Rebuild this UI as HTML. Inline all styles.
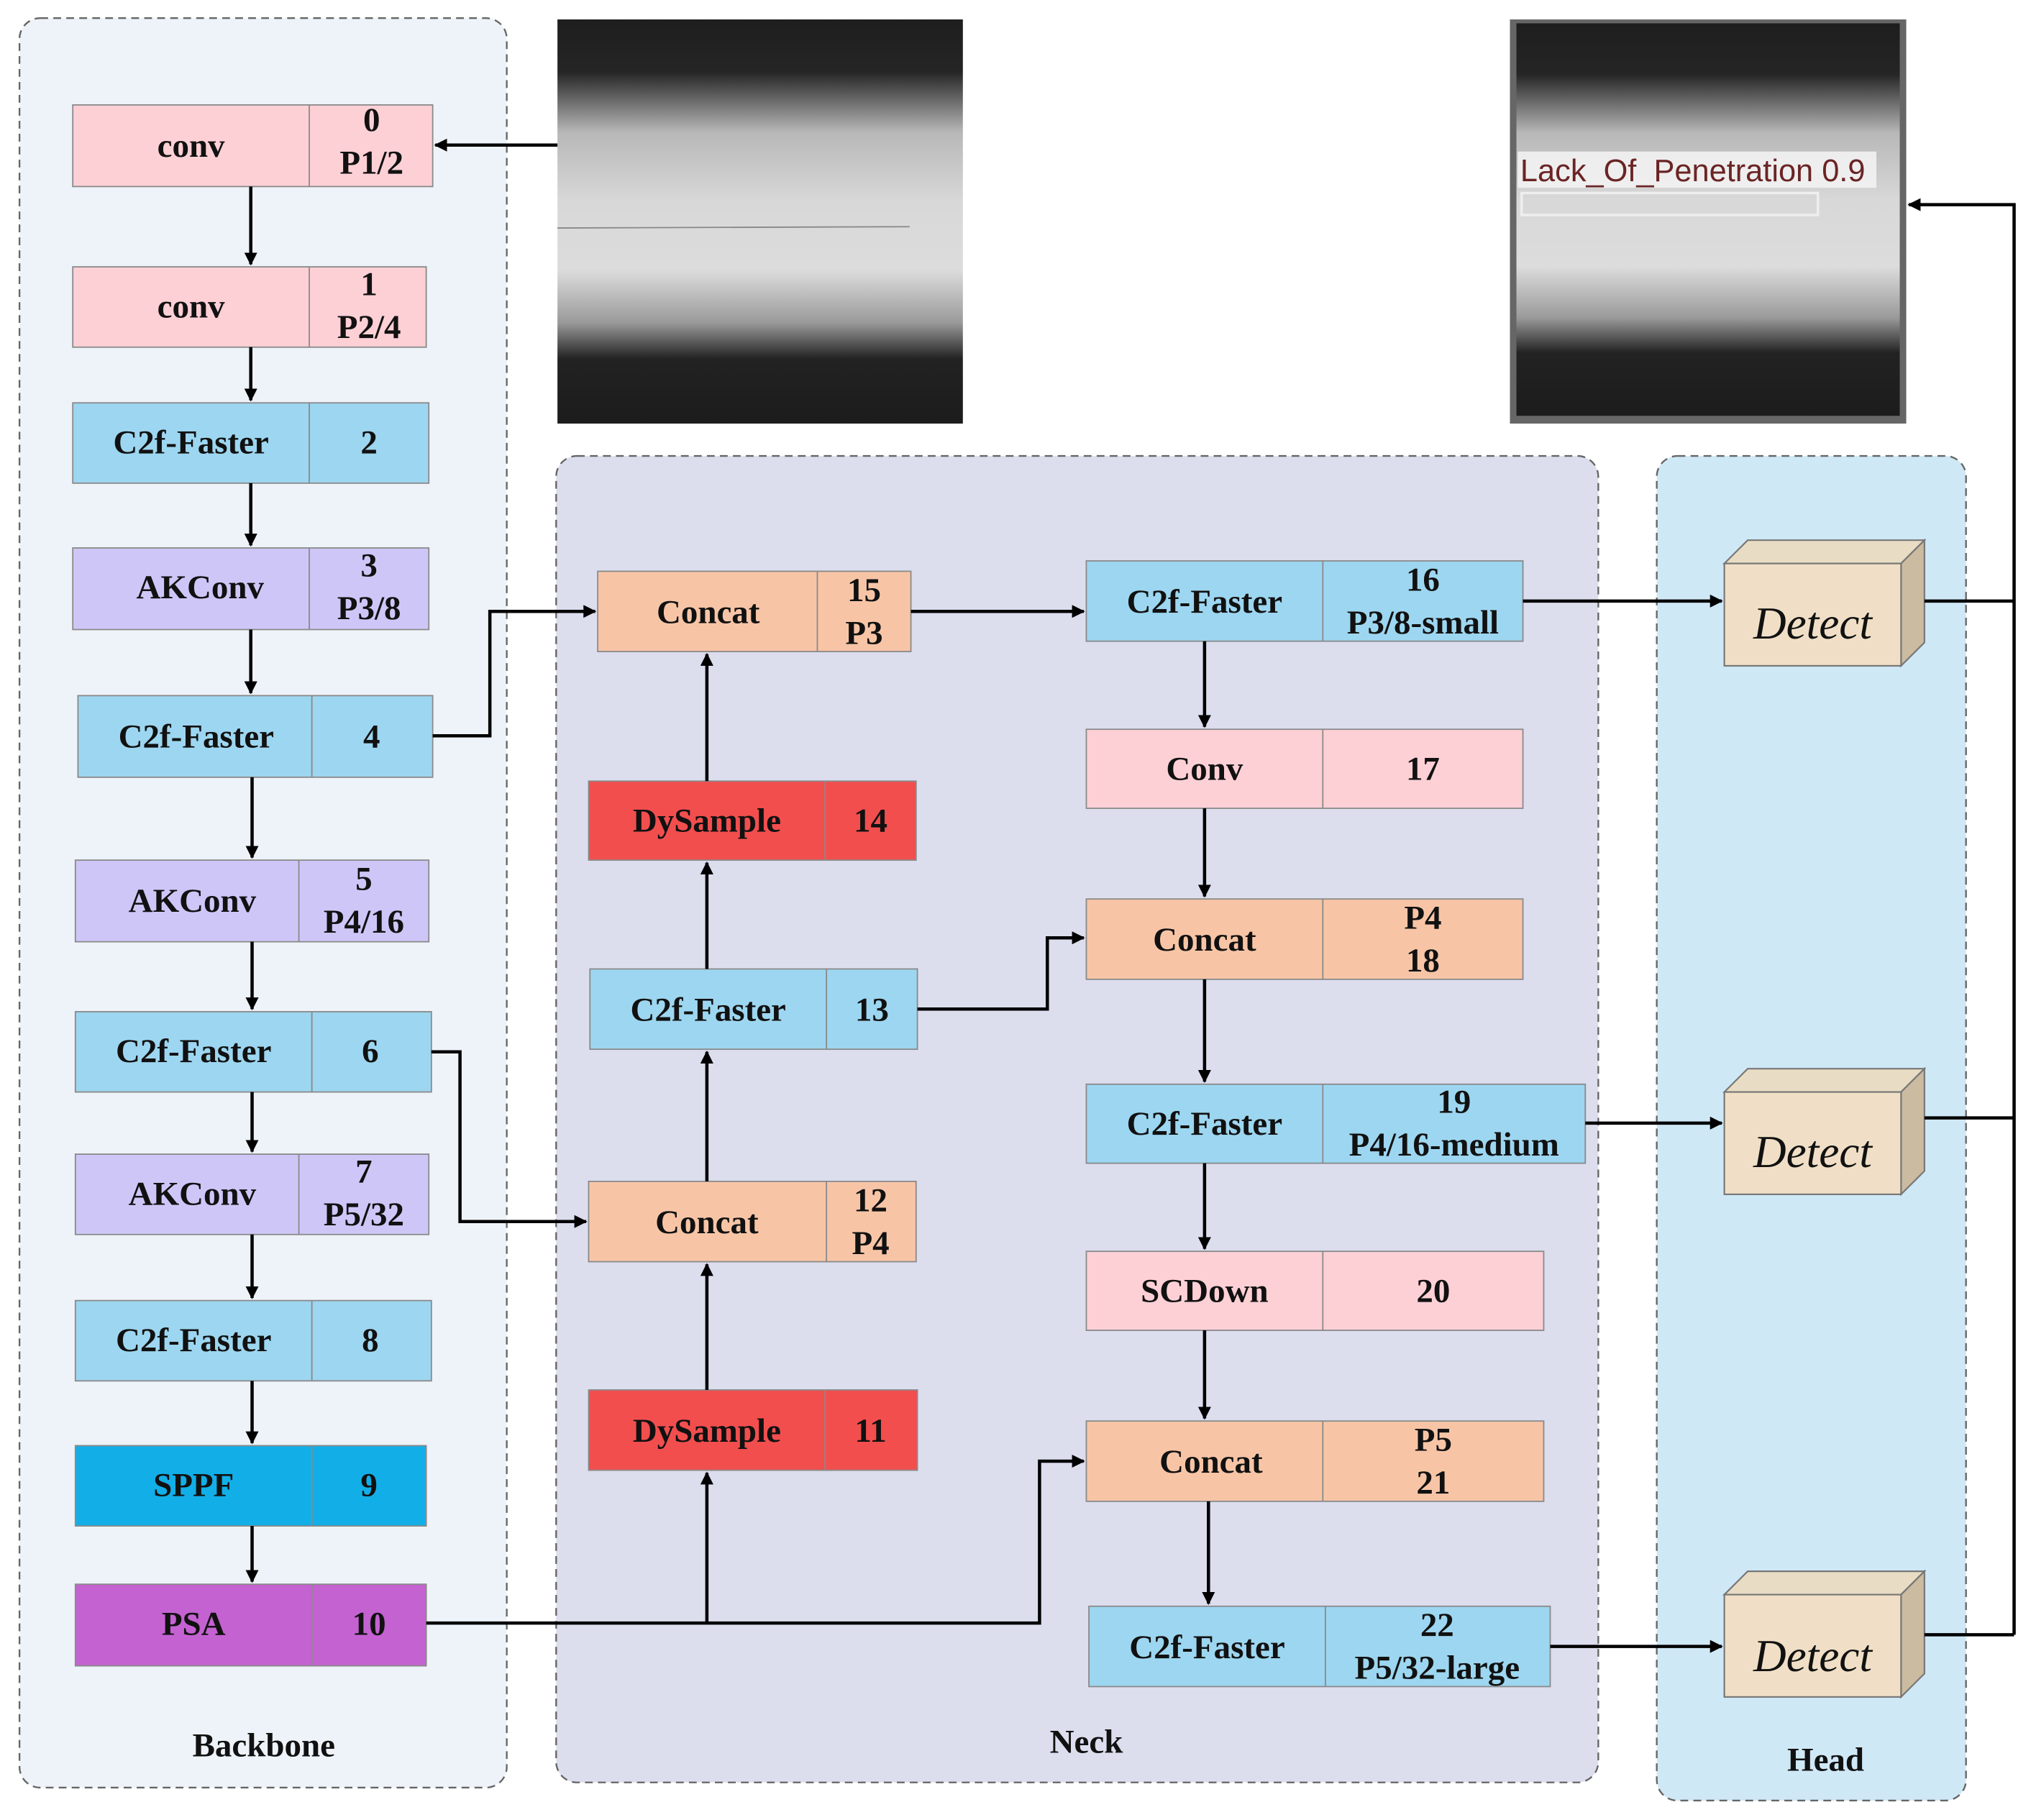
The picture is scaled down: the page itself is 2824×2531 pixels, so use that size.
<!DOCTYPE html>
<html><head><meta charset="utf-8"><style>
html,body{margin:0;padding:0;background:#fff;}
svg{display:block;}
text{font-family:"Liberation Serif",serif;font-weight:bold;font-size:26px;fill:#111;}
</style></head><body>
<svg width="2824" height="2531" viewBox="0 0 1563 1405" preserveAspectRatio="none" xmlns="http://www.w3.org/2000/svg">
<defs>
<marker id="a" markerWidth="10" markerHeight="10" refX="9" refY="5" orient="auto" markerUnits="userSpaceOnUse">
<path d="M0,0 L10,5 L0,10 z" fill="#000"/></marker>
<linearGradient id="g1" x1="0" y1="0" x2="0" y2="1">
<stop offset="0" stop-color="#1e1e1e"/><stop offset="0.13" stop-color="#252525"/><stop offset="0.28" stop-color="#b8b8b8"/><stop offset="0.45" stop-color="#d8d8d8"/><stop offset="0.62" stop-color="#dcdcdc"/><stop offset="0.75" stop-color="#9a9a9a"/><stop offset="0.84" stop-color="#222"/><stop offset="1" stop-color="#1c1c1c"/></linearGradient>
</defs>
<rect x="15" y="14" width="375" height="1366" rx="16" fill="#eef3f9" stroke="#666" stroke-dasharray="6,4" stroke-width="1.3"/>
<rect x="428" y="352" width="802" height="1024" rx="16" fill="#dcdeee" stroke="#666" stroke-dasharray="6,4" stroke-width="1.3"/>
<rect x="1275" y="352" width="238" height="1038" rx="16" fill="#cfe8f6" stroke="#666" stroke-dasharray="6,4" stroke-width="1.3"/>
<rect x="429" y="15" width="312" height="312" fill="url(#g1)"/>
<line x1="429" y1="176" x2="700" y2="175" stroke="#888" stroke-width="1"/>
<rect x="1162" y="15" width="305" height="312" fill="#666"/>
<rect x="1167" y="18" width="295" height="303" fill="url(#g1)"/>
<rect x="1168" y="117" width="276" height="28" fill="#f2f2f2" opacity="0.9"/>
<text x="1170" y="140" style="font-family:'Liberation Sans',sans-serif;font-weight:normal;font-size:24px;fill:#6b2424">Lack_Of_Penetration 0.9</text>
<rect x="1171" y="149" width="228" height="17" fill="none" stroke="#eee" stroke-width="2"/>

<g stroke="#8a8a8a" stroke-width="1">
<rect x="56" y="81" width="277" height="63" fill="#fdd0d6"/><line x1="238" y1="81" x2="238" y2="144"/>
<rect x="56" y="206" width="272" height="62" fill="#fdd0d6"/><line x1="238" y1="206" x2="238" y2="268"/>
<rect x="56" y="311" width="274" height="62" fill="#9dd6f0"/><line x1="238" y1="311" x2="238" y2="373"/>
<rect x="56" y="423" width="274" height="63" fill="#cfc6f8"/><line x1="238" y1="423" x2="238" y2="486"/>
<rect x="60" y="537" width="273" height="63" fill="#9dd6f0"/><line x1="240" y1="537" x2="240" y2="600"/>
<rect x="58" y="664" width="272" height="63" fill="#cfc6f8"/><line x1="230" y1="664" x2="230" y2="727"/>
<rect x="58" y="781" width="274" height="62" fill="#9dd6f0"/><line x1="240" y1="781" x2="240" y2="843"/>
<rect x="58" y="891" width="272" height="62" fill="#cfc6f8"/><line x1="230" y1="891" x2="230" y2="953"/>
<rect x="58" y="1004" width="274" height="62" fill="#9dd6f0"/><line x1="240" y1="1004" x2="240" y2="1066"/>
<rect x="58" y="1116" width="270" height="62" fill="#12aee8"/><line x1="240" y1="1116" x2="240" y2="1178"/>
<rect x="58" y="1223" width="270" height="63" fill="#c462d2"/><line x1="240" y1="1223" x2="240" y2="1286"/>
<rect x="460" y="441" width="241" height="62" fill="#f7c5a6"/><line x1="629" y1="441" x2="629" y2="503"/>
<rect x="453" y="603" width="252" height="61" fill="#f24e4e"/><line x1="635" y1="603" x2="635" y2="664"/>
<rect x="454" y="748" width="252" height="62" fill="#9dd6f0"/><line x1="636" y1="748" x2="636" y2="810"/>
<rect x="453" y="912" width="252" height="62" fill="#f7c5a6"/><line x1="636" y1="912" x2="636" y2="974"/>
<rect x="453" y="1073" width="253" height="62" fill="#f24e4e"/><line x1="635" y1="1073" x2="635" y2="1135"/>
<rect x="836" y="433" width="336" height="62" fill="#9dd6f0"/><line x1="1018" y1="433" x2="1018" y2="495"/>
<rect x="836" y="563" width="336" height="61" fill="#fdd0d6"/><line x1="1018" y1="563" x2="1018" y2="624"/>
<rect x="836" y="694" width="336" height="62" fill="#f7c5a6"/><line x1="1018" y1="694" x2="1018" y2="756"/>
<rect x="836" y="837" width="384" height="61" fill="#9dd6f0"/><line x1="1018" y1="837" x2="1018" y2="898"/>
<rect x="836" y="966" width="352" height="61" fill="#fdd0d6"/><line x1="1018" y1="966" x2="1018" y2="1027"/>
<rect x="836" y="1097" width="352" height="62" fill="#f7c5a6"/><line x1="1018" y1="1097" x2="1018" y2="1159"/>
<rect x="838" y="1240" width="355" height="62" fill="#9dd6f0"/><line x1="1020" y1="1240" x2="1020" y2="1302"/>
</g>

<g text-anchor="middle">
<text x="147" y="121">conv</text><text x="286" y="101">0</text><text x="286" y="134">P1/2</text>
<text x="147" y="245">conv</text><text x="284" y="228">1</text><text x="284" y="261">P2/4</text>
<text x="147" y="350">C2f-Faster</text><text x="284" y="350">2</text>
<text x="154" y="462">AKConv</text><text x="284" y="445">3</text><text x="284" y="478">P3/8</text>
<text x="151" y="577">C2f-Faster</text><text x="286" y="577">4</text>
<text x="148" y="704">AKConv</text><text x="280" y="687">5</text><text x="280" y="720">P4/16</text>
<text x="149" y="820">C2f-Faster</text><text x="285" y="820">6</text>
<text x="148" y="930">AKConv</text><text x="280" y="913">7</text><text x="280" y="946">P5/32</text>
<text x="149" y="1043">C2f-Faster</text><text x="285" y="1043">8</text>
<text x="149" y="1155">SPPF</text><text x="284" y="1155">9</text>
<text x="149" y="1262">PSA</text><text x="284" y="1262">10</text>
<text x="203" y="1356">Backbone</text>

<text x="545" y="481">Concat</text><text x="665" y="464">15</text><text x="665" y="497">P3</text>
<text x="544" y="642">DySample</text><text x="670" y="642">14</text>
<text x="545" y="788">C2f-Faster</text><text x="671" y="788">13</text>
<text x="544" y="952">Concat</text><text x="670" y="935">12</text><text x="670" y="968">P4</text>
<text x="544" y="1113">DySample</text><text x="670" y="1113">11</text>

<text x="927" y="473">C2f-Faster</text><text x="1095" y="456">16</text><text x="1095" y="489">P3/8-small</text>
<text x="927" y="602">Conv</text><text x="1095" y="602">17</text>
<text x="927" y="734">Concat</text><text x="1095" y="717">P4</text><text x="1095" y="750">18</text>
<text x="927" y="876">C2f-Faster</text><text x="1119" y="859">19</text><text x="1119" y="892">P4/16-medium</text>
<text x="927" y="1005">SCDown</text><text x="1103" y="1005">20</text>
<text x="932" y="1137">Concat</text><text x="1103" y="1120">P5</text><text x="1103" y="1153">21</text>
<text x="929" y="1280">C2f-Faster</text><text x="1106" y="1263">22</text><text x="1106" y="1296">P5/32-large</text>
<text x="836" y="1353">Neck</text>
<text x="1405" y="1367">Head</text>
</g>

<g stroke="#777" stroke-width="1.2">
<polygon points="1327,435 1345,417 1481,417 1463,435" fill="#e8dcc4"/>
<polygon points="1463,435 1481,417 1481,496 1463,514" fill="#cbbba0"/>
<rect x="1327" y="435" width="136" height="79" fill="#f0dfc6"/>
<polygon points="1327,843 1345,825 1481,825 1463,843" fill="#e8dcc4"/>
<polygon points="1463,843 1481,825 1481,904 1463,922" fill="#cbbba0"/>
<rect x="1327" y="843" width="136" height="79" fill="#f0dfc6"/>
<polygon points="1327,1231 1345,1213 1481,1213 1463,1231" fill="#e8dcc4"/>
<polygon points="1463,1231 1481,1213 1481,1292 1463,1310" fill="#cbbba0"/>
<rect x="1327" y="1231" width="136" height="79" fill="#f0dfc6"/>
</g>
<g text-anchor="middle">
<text x="1395" y="493" style="font-weight:normal;font-size:35px;font-style:italic">Detect</text>
<text x="1395" y="901" style="font-weight:normal;font-size:35px;font-style:italic">Detect</text>
<text x="1395" y="1290" style="font-weight:normal;font-size:35px;font-style:italic">Detect</text>
</g>

<g stroke="#000" stroke-width="2.5" fill="none">
<line x1="429" y1="112" x2="335" y2="112" marker-end="url(#a)"/>
<line x1="193" y1="144" x2="193" y2="204" marker-end="url(#a)"/>
<line x1="193" y1="268" x2="193" y2="309" marker-end="url(#a)"/>
<line x1="193" y1="373" x2="193" y2="421" marker-end="url(#a)"/>
<line x1="193" y1="486" x2="193" y2="535" marker-end="url(#a)"/>
<line x1="194" y1="600" x2="194" y2="662" marker-end="url(#a)"/>
<line x1="194" y1="727" x2="194" y2="779" marker-end="url(#a)"/>
<line x1="194" y1="843" x2="194" y2="889" marker-end="url(#a)"/>
<line x1="194" y1="953" x2="194" y2="1002" marker-end="url(#a)"/>
<line x1="194" y1="1066" x2="194" y2="1114" marker-end="url(#a)"/>
<line x1="194" y1="1178" x2="194" y2="1221" marker-end="url(#a)"/>
<polyline points="333,568 377,568 377,472 458,472" marker-end="url(#a)"/>
<polyline points="332,812 354,812 354,943 451,943" marker-end="url(#a)"/>
<polyline points="328,1253 800,1253 800,1128 834,1128" marker-end="url(#a)"/>
<line x1="544" y1="1253" x2="544" y2="1137" marker-end="url(#a)"/>
<line x1="544" y1="1073" x2="544" y2="976" marker-end="url(#a)"/>
<line x1="544" y1="912" x2="544" y2="812" marker-end="url(#a)"/>
<line x1="544" y1="748" x2="544" y2="666" marker-end="url(#a)"/>
<line x1="544" y1="603" x2="544" y2="505" marker-end="url(#a)"/>
<line x1="701" y1="472" x2="834" y2="472" marker-end="url(#a)"/>
<polyline points="706,779 806,779 806,724 834,724" marker-end="url(#a)"/>
<line x1="927" y1="495" x2="927" y2="561" marker-end="url(#a)"/>
<line x1="927" y1="624" x2="927" y2="692" marker-end="url(#a)"/>
<line x1="927" y1="756" x2="927" y2="835" marker-end="url(#a)"/>
<line x1="927" y1="898" x2="927" y2="964" marker-end="url(#a)"/>
<line x1="927" y1="1027" x2="927" y2="1095" marker-end="url(#a)"/>
<line x1="930" y1="1159" x2="930" y2="1238" marker-end="url(#a)"/>
<line x1="1172" y1="464" x2="1325" y2="464" marker-end="url(#a)"/>
<line x1="1220" y1="867" x2="1325" y2="867" marker-end="url(#a)"/>
<line x1="1193" y1="1271" x2="1325" y2="1271" marker-end="url(#a)"/>
<line x1="1481" y1="464" x2="1550" y2="464"/>
<line x1="1481" y1="863" x2="1550" y2="863"/>
<line x1="1481" y1="1262" x2="1550" y2="1262"/>
<polyline points="1550,1262 1550,158 1469,158" marker-end="url(#a)"/>
</g>
</svg>
</body></html>
